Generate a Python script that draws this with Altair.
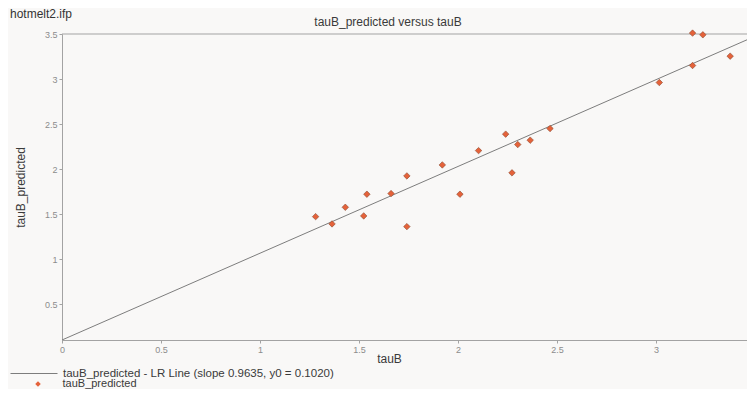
import altair as alt
import pandas as pd

# ---- data ----
tauB = [1.281, 1.364, 1.431, 1.524, 1.540, 1.662, 1.742, 1.742, 1.921, 2.010, 2.104,
        2.241, 2.273, 2.302, 2.365, 2.465, 3.017, 3.185, 3.185, 3.237, 3.375]
tauB_predicted = [1.472, 1.391, 1.576, 1.480, 1.721, 1.728, 1.924, 1.361, 2.046, 1.721, 2.205,
                  2.388, 1.958, 2.272, 2.321, 2.450, 2.961, 3.510, 3.150, 3.491, 3.254]

LR_SLOPE = 0.9635
LR_Y0 = 0.1020
X_MAX = 3.46          # visible part of the x range (window cuts the plot here)
Y_MAX = 3.5
X_RANGE = [0.0, X_MAX]

X_TICKS = [0, 0.5, 1, 1.5, 2, 2.5, 3, 3.5]
Y_TICKS = [0.5, 1, 1.5, 2, 2.5, 3, 3.5]

FILE_LABEL = "hotmelt2.ifp"
TITLE = "tauB_predicted versus tauB"
LINE_LABEL = "tauB_predicted - LR Line (slope 0.9635, y0 = 0.1020)"
POINT_LABEL = "tauB_predicted"

pts = pd.DataFrame({"tauB": tauB, "tauB_predicted": tauB_predicted, "series": POINT_LABEL})
line = pd.DataFrame({
    "tauB": X_RANGE,
    "tauB_predicted": [LR_Y0 + LR_SLOPE * x for x in X_RANGE],
    "series": LINE_LABEL,
})

FONT = "Liberation Sans"
AXIS_GRAY = "#a3a3a3"
LABEL_GRAY = "#8c8c8c"
TEXT_DARK = "#3a3a3a"

x_scale = alt.Scale(domain=[0, X_MAX], nice=False, zero=False)
y_scale = alt.Scale(domain=[LR_Y0, Y_MAX], nice=False, zero=False)

x_axis = alt.Axis(values=X_TICKS, format="~g", title="tauB", grid=False,
                  labelFontSize=9, labelColor=LABEL_GRAY, labelPadding=2,
                  tickColor=AXIS_GRAY, tickSize=3, domainColor=AXIS_GRAY,
                  titleFontSize=12, titleFontWeight="normal", titleColor=TEXT_DARK,
                  titleX=327, titleY=18, titleBaseline="middle", titleAlign="center",
                  labelFlush=False)
y_axis = alt.Axis(values=Y_TICKS, format="~g", title="tauB_predicted", grid=False,
                  labelFontSize=9, labelColor=LABEL_GRAY, labelPadding=2,
                  tickColor=AXIS_GRAY, tickSize=3, domainColor=AXIS_GRAY,
                  titleFontSize=12, titleFontWeight="normal", titleColor=TEXT_DARK,
                  titleX=-42, titleY=153, titleAngle=270, titleBaseline="middle",
                  titleAlign="center", labelFlush=False)

line_chart = alt.Chart(line).mark_line(strokeWidth=1).encode(
    x=alt.X("tauB:Q", scale=x_scale, axis=x_axis),
    y=alt.Y("tauB_predicted:Q", scale=y_scale, axis=y_axis),
    color=alt.Color("series:N",
                    scale=alt.Scale(domain=[LINE_LABEL], range=["#7d7d7d"]),
                    legend=alt.Legend(title=None, orient="none", legendX=-52, legendY=315.5,
                                      symbolType="stroke", symbolSize=2209,
                                      symbolStrokeWidth=1, labelFontSize=11.5,
                                      labelColor=TEXT_DARK, labelOffset=5, labelLimit=0,
                                      labelFont=FONT)),
)

top_rule = alt.Chart(pd.DataFrame({"top": [Y_MAX]})).mark_rule(
    color=AXIS_GRAY, strokeWidth=1
).encode(y=alt.Y("top:Q", scale=y_scale))

pt_chart = alt.Chart(pts).mark_point(shape="diamond", filled=True, size=42, opacity=1,
                                     stroke="#8a4a30", strokeWidth=0.6).encode(
    x=alt.X("tauB:Q", scale=x_scale),
    y=alt.Y("tauB_predicted:Q", scale=y_scale),
    color=alt.Color("series:N",
                    scale=alt.Scale(domain=[POINT_LABEL], range=["#e5623a"]),
                    legend=alt.Legend(title=None, orient="none", legendX=-29.5, legendY=344.5,
                                      symbolType="diamond", symbolSize=30,
                                      symbolStrokeWidth=0, symbolOpacity=1,
                                      labelFontSize=11, labelColor=TEXT_DARK,
                                      labelOffset=19, labelLimit=0, labelFont=FONT)),
)

file_text = alt.Chart(pd.DataFrame({"label": [FILE_LABEL]})).mark_text(
    align="left", baseline="alphabetic", fontSize=12, color="#333333", font=FONT
).encode(x=alt.value(-52), y=alt.value(-16), text="label:N")

title_text = alt.Chart(pd.DataFrame({"label": [TITLE]})).mark_text(
    align="center", baseline="middle", fontSize=12, color=TEXT_DARK, font=FONT
).encode(x=alt.value(326), y=alt.value(-12), text="label:N")

chart = alt.layer(top_rule, line_chart, pt_chart, file_text, title_text).resolve_scale(
    color="independent"
).properties(
    width=685, height=306,
    autosize=alt.AutoSizeParams(type="none"),
    padding={"left": 54, "top": 26, "right": 0, "bottom": 49},
    background="#f9f8f7",
).configure(font=FONT).configure_view(strokeWidth=0)

chart.save("out.html", embed_options={"renderer": "svg", "actions": False})
